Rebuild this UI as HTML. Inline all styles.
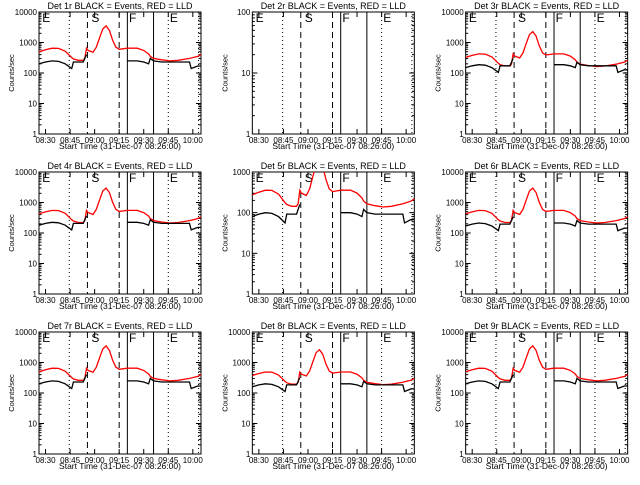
<!DOCTYPE html>
<html><head><meta charset="utf-8"><style>
body{margin:0;background:#fff;width:640px;height:480px;overflow:hidden}
svg text{font-family:"Liberation Sans",sans-serif;fill:#000}
</style></head><body>
<svg id="c" width="640" height="480"></svg>
<script>
// time samples in minutes after 08:26
const times=[0,4,8,12,16,20,21,24,27,28,29,30,33,35,37,39,41,43,45,47,49,54,60,64,67,68,70,75,80,85,92,93,97,99];
const redBase=[500,580,650,640,520,320,290,260,260,300,650,550,480,700,1400,2800,3500,2500,1200,700,600,650,650,550,420,350,300,270,250,260,300,310,350,400];
const blackBase=[200,230,250,240,200,140,230,230,230,300,400,null,null,null,null,null,null,null,null,null,null,250,250,230,200,300,250,230,230,230,230,140,170,170];
const dets=["1r","2r","3r","4r","5r","6r","7r","8r","9r"];
const yMax=[10000,100,10000,10000,1000,10000,10000,10000,10000];
const redScale=[1,0,0.65,0.85,0.55,0.85,1,0.75,1];
const blackScale=[1,0,0.75,0.9,0.4,0.85,1,0.8,1];
const tickLabels=["08:30","08:45","09:00","09:15","09:30","09:45","10:00"];
const tickTimes=[4,19,34,49,64,79,94];
const markers=[{t:18.5,d:"1,3"},{t:29.6,d:"6,4"},{t:49,d:"6,4"},{t:54,d:""},{t:70,d:""},{t:79,d:"1,3"},{t:97.5,d:"1,3"}];
const letters=[{t:2,s:"E"},{t:32,s:"S"},{t:55,s:"F"},{t:80,s:"E"}];
const svg=document.getElementById('c');const NS="http://www.w3.org/2000/svg";
function mk(tag,a,p){const e=document.createElementNS(NS,tag);for(const k in a)e.setAttribute(k,a[k]);(p||svg).appendChild(e);return e;}
for(let i=0;i<9;i++){
 const ox=(i%3)*213.33,oy=Math.floor(i/3)*160;
 const g=mk('g',{transform:`translate(${ox},${oy})`});
 
 
 const L=39,R=201,T=12,B=134,tmax=99;
 const X=t=>L+(t/tmax)*(R-L);
 const dec=Math.log10(yMax[i]);
 const Y=v=>B-(Math.log10(v)/dec)*(B-T);
 const tt=mk('text',{x:120,y:9,'font-size':9,'text-anchor':'middle'},g);tt.textContent=`Det ${dets[i]} BLACK = Events, RED = LLD`;
 
 const box=mk('rect',{x:L,y:T,width:R-L,height:B-T,fill:'none',stroke:'#000','stroke-width':1},g);
 
 for(let d=0;d<=dec;d++){const y=Y(Math.pow(10,d));
  mk('line',{x1:L,x2:L+5,y1:y,y2:y,stroke:'#000'},g);mk('line',{x1:R-5,x2:R,y1:y,y2:y,stroke:'#000'},g);
  const lb=mk('text',{x:L-2,y:y+3,'font-size':8,'text-anchor':'end'},g);lb.textContent=String(Math.pow(10,d));
  
  if(d<dec)for(let m=2;m<10;m++){const ym=Y(m*Math.pow(10,d));mk('line',{x1:L,x2:L+2.5,y1:ym,y2:ym,stroke:'#000'},g);mk('line',{x1:R-2.5,x2:R,y1:ym,y2:ym,stroke:'#000'},g);}
 }
 tickTimes.forEach((t,k)=>{const x=X(t);mk('line',{x1:x,x2:x,y1:B,y2:B-5,stroke:'#000'},g);mk('line',{x1:x,x2:x,y1:T,y2:T+5,stroke:'#000'},g);
  const lb=mk('text',{x:x,y:B+9,'font-size':8,'text-anchor':'middle'},g);lb.textContent=tickLabels[k];
  });
 const xl=mk('text',{x:120,y:149,'font-size':8.5,'text-anchor':'middle'},g);xl.textContent='Start Time (31-Dec-07 08:26:00)';
 
 const yl=mk('text',{x:0,y:0,'font-size':7.5,'text-anchor':'middle',transform:`translate(14,${(T+B)/2}) rotate(-90)`},g);yl.textContent='Counts/sec';
 
 markers.forEach(m=>{const x=X(m.t);const l=mk('line',{x1:x,x2:x,y1:T,y2:B,stroke:'#000','stroke-width':1,'stroke-dasharray':m.d},g);
  });
 letters.forEach(m=>{const lt=mk('text',{x:X(m.t),y:T+10,'font-size':12},g);lt.textContent=m.s;
  });
 const cp=mk('clipPath',{id:'cp'+i},g);mk('rect',{x:L,y:T,width:R-L,height:B-T},cp);
 if(redScale[i]>0){
  let pr='';times.forEach((t,k)=>{pr+=(k?'L':'M')+X(t).toFixed(1)+','+Y(redBase[k]*redScale[i]).toFixed(1);});
  const rp=mk('path',{d:pr,fill:'none',stroke:'#f00','stroke-width':1.3,'clip-path':`url(#cp${i})`},g);
  
  let pb='',pen=false;times.forEach((t,k)=>{const v=blackBase[k];if(v==null){pen=false;return;}pb+=(pen?'L':'M')+X(t).toFixed(1)+','+Y(v*blackScale[i]).toFixed(1);pen=true;});
  const bp=mk('path',{d:pb,fill:'none',stroke:'#000','stroke-width':1.3,'clip-path':`url(#cp${i})`},g);
  
 }
}
</script>
</body></html>
